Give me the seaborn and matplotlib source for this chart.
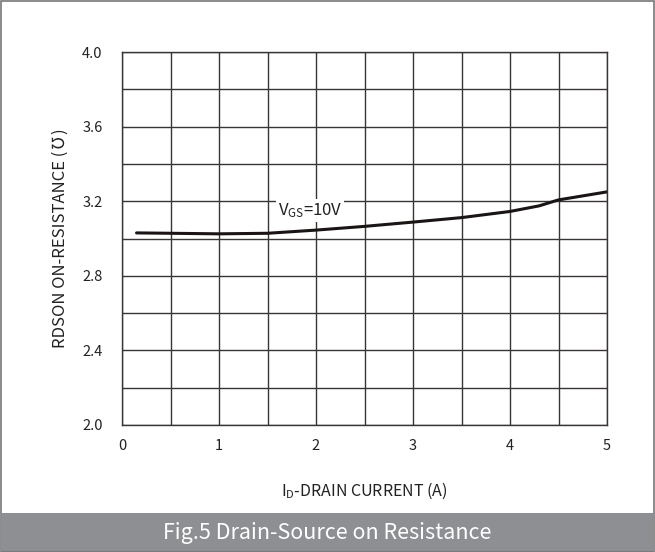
import matplotlib
matplotlib.use("Agg")
import matplotlib.pyplot as plt
import seaborn as sns
import numpy as np
import pandas as pd
from matplotlib.patches import Rectangle

# Data
current_a = [0.15, 0.5, 1.0, 1.5, 2.0, 2.5, 3.0, 3.5, 4.0, 4.3, 4.5, 5.0]
rdson_ohm = [3.030, 3.028, 3.025, 3.028, 3.045, 3.065, 3.088, 3.112, 3.145, 3.175, 3.207, 3.250]
x_tick_labels = ["0", "", "1", "", "2", "", "3", "", "4", "", "5"]
y_tick_labels = ["2.0", "", "2.4", "", "2.8", "", "3.2", "", "3.6", "", "4.0"]
curve_label = r"V$_{\mathrm{GS}}$=10V"
x_label = r"I$_{\mathrm{D}}$-DRAIN CURRENT (A)"
y_label = "RDSON ON-RESISTANCE (\u2127)"
caption = "Fig.5 Drain-Source on Resistance"

sns.set_style("white")
plt.rcParams['font.family'] = ['Noto Sans CJK SC', 'DejaVu Sans']
plt.rcParams['mathtext.fontset'] = 'custom'
plt.rcParams['mathtext.rm'] = 'Noto Sans CJK SC'
plt.rcParams['mathtext.it'] = 'Noto Sans CJK SC'

df = pd.DataFrame({"I": current_a, "R": rdson_ohm})

fig = plt.figure(figsize=(6.55, 5.52), dpi=100)
ax = fig.add_axes([122/655, 1-425/552, (607-122)/655, (425-52)/552])

grid_c = "#3a3535"
ax.set_xlim(0, 5)
ax.set_ylim(2.0, 4.0)
ax.set_xticks(np.arange(0, 5.01, 0.5))
ax.set_yticks(np.arange(2.0, 4.01, 0.2))
ax.set_xticklabels(x_tick_labels)
ax.set_yticklabels(y_tick_labels)
ax.grid(True, color=grid_c, linewidth=1.0)
for s in ax.spines.values():
    s.set_color(grid_c)
    s.set_linewidth(1.0)
ax.tick_params(axis='both', which='major', length=4, color=grid_c, labelsize=10.5,
               labelcolor="#222222", pad=6)
ax.tick_params(axis='y', pad=10)

sns.lineplot(data=df, x="I", y="R", ax=ax, color="#1a1414", linewidth=2.2)
ax.set_xlabel(x_label, fontsize=11.5, color="#222222", labelpad=20)
ax.set_ylabel(y_label, fontsize=12, color="#222222")
ax.yaxis.set_label_coords((69 - 122) / 485, 0.5)

ax.text(1.94, 3.15, curve_label, fontsize=12, color="#222222", ha="center", va="center",
        bbox=dict(facecolor="white", edgecolor="none", pad=1.5))

# caption bar and border
fig.patches.append(Rectangle((2/655, 0), 651/655, 39/552, transform=fig.transFigure,
                             facecolor="#8e8f93", edgecolor="none", zorder=0))
fig.patches.append(Rectangle((1/655, 0), 653/655, 551/552, transform=fig.transFigure,
                             facecolor="none", edgecolor="#777777", linewidth=1.2))
fig.text(0.5, 19/552, caption, ha="center", va="center", color="white", fontsize=15.5)

fig.savefig("out.png", dpi=100)
